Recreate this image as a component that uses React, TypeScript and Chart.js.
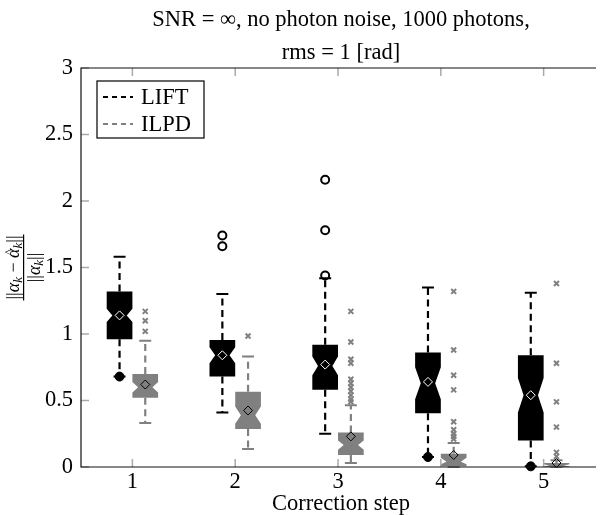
import React, { useEffect, useRef } from "react";
import { Chart, registerables } from "chart.js";

Chart.register(...registerables);

// ---------- data ----------
const categories = [1, 2, 3, 4, 5];
const xTickValues = [1, 2, 3, 4, 5];
const yTickValues = [0, 0.5, 1, 1.5, 2, 2.5, 3];

const titleLines = ["SNR = \u221E, no photon noise, 1000 photons,", "rms = 1 [rad]"];
const xAxisTitle = "Correction step";
const seriesNames = ["LIFT", "ILPD"];

// LIFT
const liftWhiskerHi = [1.58, 1.3, 1.42, 1.35, 1.31];
const liftQ3 = [1.32, 0.955, 0.92, 0.86, 0.84];
const liftNotchHi = [1.19, 0.9, 0.83, 0.75, 0.67];
const liftMedian = [1.14, 0.84, 0.76, 0.63, 0.54];
const liftNotchLo = [1.09, 0.78, 0.69, 0.51, 0.41];
const liftQ1 = [0.96, 0.68, 0.58, 0.405, 0.2];
const liftWhiskerLo = [0.68, 0.41, 0.25, 0.075, 0.005];
const liftMean = [1.14, 0.84, 0.77, 0.64, 0.54];
const liftOutliers = [[], [1.74, 1.66], [2.16, 1.78, 1.44], [], []];
const liftLowMarks = [0.68, null, null, 0.075, 0.005];

// ILPD
const ilpdWhiskerHi = [0.95, 0.83, 0.465, 0.18, 0.05];
const ilpdQ3 = [0.7, 0.565, 0.26, 0.1, 0.03];
const ilpdNotchHi = [0.64, 0.455, 0.2, 0.07, 0.02];
const ilpdMedian = [0.6, 0.39, 0.165, 0.04, 0.01];
const ilpdNotchLo = [0.56, 0.325, 0.13, 0.02, 0.005];
const ilpdQ1 = [0.52, 0.285, 0.09, 0.005, 0.0];
const ilpdWhiskerLo = [0.33, 0.135, 0.03, 0.0, 0.0];
const ilpdMean = [0.62, 0.425, 0.23, 0.09, 0.03];
const ilpdOutliers = [
  [1.17, 1.1, 1.02],
  [0.985],
  [1.17, 0.94, 0.81, 0.78, 0.66, 0.63, 0.6, 0.57, 0.54, 0.51, 0.49],
  [1.32, 0.88, 0.69, 0.58, 0.34, 0.28, 0.25, 0.23, 0.21],
  [1.38, 0.78, 0.49, 0.3, 0.11, 0.08],
];

// ---------- style ----------
const FONT = "'Liberation Serif', 'DejaVu Serif', serif";
const BLACK = "#000000";
const GRAY = "#808080";
const OFFSET = 0.125; // half group offset in category units
const HALF = 0.125; // half box width in category units

type BoxSeries = {
  color: string;
  off: number;
  whiskerHi: number[];
  q3: number[];
  notchHi: number[];
  median: number[];
  notchLo: number[];
  q1: number[];
  whiskerLo: number[];
};

const boxSeries: BoxSeries[] = [
  { color: BLACK, off: -OFFSET, whiskerHi: liftWhiskerHi, q3: liftQ3, notchHi: liftNotchHi, median: liftMedian, notchLo: liftNotchLo, q1: liftQ1, whiskerLo: liftWhiskerLo },
  { color: GRAY, off: OFFSET, whiskerHi: ilpdWhiskerHi, q3: ilpdQ3, notchHi: ilpdNotchHi, median: ilpdMedian, notchLo: ilpdNotchLo, q1: ilpdQ1, whiskerLo: ilpdWhiskerLo },
];

const boxPlugin = {
  id: "boxes",
  beforeDatasetsDraw(chart: any) {
    const { ctx } = chart;
    const xs = chart.scales.x;
    const ys = chart.scales.y;
    ctx.save();
    boxSeries.forEach((s) => {
      categories.forEach((c, i) => {
        const xc = xs.getPixelForValue(c + s.off);
        const xl = xs.getPixelForValue(c + s.off - HALF);
        const xr = xs.getPixelForValue(c + s.off + HALF);
        const yq3 = ys.getPixelForValue(s.q3[i]);
        const yq1 = ys.getPixelForValue(s.q1[i]);
        const ywh = ys.getPixelForValue(s.whiskerHi[i]);
        const ywl = ys.getPixelForValue(s.whiskerLo[i]);
        const ynh = ys.getPixelForValue(s.notchHi[i]);
        const ynl = ys.getPixelForValue(s.notchLo[i]);
        const ym = ys.getPixelForValue(s.median[i]);
        // whiskers
        ctx.strokeStyle = s.color;
        ctx.lineWidth = 2.2;
        ctx.setLineDash([7, 4.5]);
        ctx.beginPath();
        ctx.moveTo(xc, yq3);
        ctx.lineTo(xc, ywh);
        ctx.moveTo(xc, yq1);
        ctx.lineTo(xc, ywl);
        ctx.stroke();
        ctx.setLineDash([]);
        ctx.lineWidth = 2;
        ctx.beginPath();
        ctx.moveTo(xc - 6, ywh);
        ctx.lineTo(xc + 6, ywh);
        ctx.moveTo(xc - 6, ywl);
        ctx.lineTo(xc + 6, ywl);
        ctx.stroke();
        // notched box
        const d = (xr - xl) * 0.22;
        ctx.fillStyle = s.color;
        ctx.beginPath();
        ctx.moveTo(xl, yq3);
        ctx.lineTo(xr, yq3);
        ctx.lineTo(xr, ynh);
        ctx.lineTo(xr - d, ym);
        ctx.lineTo(xr, ynl);
        ctx.lineTo(xr, yq1);
        ctx.lineTo(xl, yq1);
        ctx.lineTo(xl, ynl);
        ctx.lineTo(xl + d, ym);
        ctx.lineTo(xl, ynh);
        ctx.closePath();
        ctx.fill();
      });
    });
    ctx.restore();
  },
  afterDraw(chart: any) {
    const { ctx, chartArea } = chart;
    const xs = chart.scales.x;
    const ys = chart.scales.y;
    const { left, right, top, bottom } = chartArea;
    ctx.save();
    // tick marks (inward)
    ctx.strokeStyle = "#aaaaaa";
    ctx.lineWidth = 1.5;
    ctx.beginPath();
    xTickValues.forEach((v) => {
      const x = xs.getPixelForValue(v);
      ctx.moveTo(x, bottom);
      ctx.lineTo(x, bottom - 8);
      ctx.moveTo(x, top);
      ctx.lineTo(x, top + 8);
    });
    yTickValues.forEach((v) => {
      const y = ys.getPixelForValue(v);
      ctx.moveTo(left, y);
      ctx.lineTo(left + 8, y);
    });
    ctx.stroke();
    // frame
    ctx.strokeStyle = "#111111";
    ctx.lineWidth = 1.2;
    ctx.beginPath();
    ctx.moveTo(right + 2, top);
    ctx.lineTo(left, top);
    ctx.lineTo(left, bottom);
    ctx.lineTo(right + 2, bottom);
    ctx.stroke();

    // title
    const cx = (left + 601) / 2;
    ctx.fillStyle = "#000";
    ctx.textAlign = "center";
    ctx.textBaseline = "alphabetic";
    ctx.font = `22.5px ${FONT}`;
    ctx.fillText(titleLines[0], cx, 26);
    ctx.fillText(titleLines[1], cx, 59);
    // x title
    ctx.fillText(xAxisTitle, cx, 510);

    // legend
    const lx = 97, ly = 81, lw = 107, lh = 57;
    ctx.fillStyle = "#fff";
    ctx.fillRect(lx, ly, lw, lh);
    ctx.strokeStyle = "#000";
    ctx.lineWidth = 1.2;
    ctx.strokeRect(lx, ly, lw, lh);
    const legendColors = [BLACK, GRAY];
    seriesNames.forEach((n, k) => {
      const yy = ly + 16 + k * 27;
      ctx.strokeStyle = legendColors[k];
      ctx.lineWidth = 2.2;
      ctx.setLineDash([5, 4]);
      ctx.beginPath();
      ctx.moveTo(lx + 6, yy);
      ctx.lineTo(lx + 36, yy);
      ctx.stroke();
      ctx.setLineDash([]);
      ctx.fillStyle = "#000";
      ctx.textAlign = "left";
      ctx.textBaseline = "middle";
      ctx.font = `22.5px ${FONT}`;
      ctx.fillText(n, lx + 44, yy + 1);
    });

    // y label: ||a_k - â_k|| / ||a_k|| rotated
    ctx.save();
    ctx.translate(24, (top + bottom) / 2);
    ctx.rotate(-Math.PI / 2);
    ctx.fillStyle = "#000";
    ctx.textBaseline = "alphabetic";
    const main = `18px ${FONT}`;
    const ital = `italic 18px ${FONT}`;
    const sub = `italic 13px ${FONT}`;
    type Seg = { t: string; f: string; dy?: number; hat?: boolean };
    const drawSegs = (segs: Seg[], yBase: number) => {
      let w = 0;
      segs.forEach((s) => { ctx.font = s.f; w += ctx.measureText(s.t).width; });
      let x = -w / 2;
      segs.forEach((s) => {
        ctx.font = s.f;
        ctx.textAlign = "left";
        ctx.fillText(s.t, x, yBase + (s.dy || 0));
        const sw = ctx.measureText(s.t).width;
        if (s.hat) {
          ctx.font = `13px ${FONT}`;
          ctx.textAlign = "center";
          ctx.fillText("^", x + sw / 2 + 1, yBase - 6);
        }
        x += sw;
      });
      return w;
    };
    const num: Seg[] = [
      { t: "||", f: main },
      { t: "\u03B1", f: ital },
      { t: "k", f: sub, dy: 3 },
      { t: " \u2212 ", f: main },
      { t: "\u03B1", f: ital, hat: true },
      { t: "k", f: sub, dy: 3 },
      { t: "||", f: main },
    ];
    const den: Seg[] = [
      { t: "||", f: main },
      { t: "\u03B1", f: ital },
      { t: "k", f: sub, dy: 3 },
      { t: "||", f: main },
    ];
    const wn = drawSegs(num, -5);
    drawSegs(den, 16);
    ctx.fillRect(-wn / 2 - 1, -1, wn + 2, 1.2);
    ctx.restore();

    ctx.restore();
  },
};

function pointsFrom(lists: number[][], off: number) {
  const pts: { x: number; y: number }[] = [];
  lists.forEach((l, i) => l.forEach((v) => pts.push({ x: categories[i] + off, y: v })));
  return pts;
}

export default function App() {
  const ref = useRef<HTMLCanvasElement | null>(null);
  useEffect(() => {
    if (!ref.current) return;
    const chart = new Chart(ref.current, {
      type: "scatter",
      data: {
        datasets: [
          {
            label: "LIFT outliers",
            data: pointsFrom(liftOutliers, -OFFSET),
            pointStyle: "circle",
            pointRadius: 4,
            borderWidth: 2,
            borderColor: BLACK,
            backgroundColor: "rgba(0,0,0,0)",
            clip: false,
          } as any,
          {
            label: "LIFT low",
            data: liftLowMarks
              .map((v, i) => (v === null ? null : { x: categories[i] - OFFSET, y: v }))
              .filter((p) => p !== null) as any,
            pointStyle: "circle",
            pointRadius: 4.5,
            borderWidth: 1,
            borderColor: BLACK,
            backgroundColor: BLACK,
            clip: false,
          } as any,
          {
            label: "ILPD outliers",
            data: pointsFrom(ilpdOutliers, OFFSET),
            pointStyle: "crossRot",
            pointRadius: 3.5,
            borderWidth: 2,
            borderColor: GRAY,
            backgroundColor: GRAY,
            clip: false,
          } as any,
          {
            label: "LIFT mean",
            data: liftMean.map((v, i) => ({ x: categories[i] - OFFSET, y: v })),
            pointStyle: "rectRot",
            pointRadius: 4.5,
            borderWidth: 1,
            borderColor: "#ffffff",
            backgroundColor: "rgba(0,0,0,0)",
            clip: false,
          } as any,
          {
            label: "ILPD mean",
            data: ilpdMean.map((v, i) => ({ x: categories[i] + OFFSET, y: v })),
            pointStyle: "rectRot",
            pointRadius: 4.5,
            borderWidth: 1,
            borderColor: "#000000",
            backgroundColor: "rgba(0,0,0,0)",
            clip: false,
          } as any,
        ],
      },
      options: {
        animation: false,
        responsive: false,
        events: [],
        layout: { padding: { top: 68, left: 0, right: 0, bottom: 0 } },
        plugins: { legend: { display: false }, title: { display: false }, tooltip: { enabled: false } },
        scales: {
          x: {
            type: "linear",
            min: 0.5,
            max: 5.49,
            afterBuildTicks: (s: any) => { s.ticks = xTickValues.map((v) => ({ value: v })); },
            afterFit: (s: any) => { s.height = 48; },
            grid: { display: false, drawTicks: false },
            border: { display: false },
            ticks: {
              color: "#000",
              font: { family: FONT, size: 22.5 },
              padding: 2,
              maxRotation: 0,
              callback: (v: any) => String(v),
            },
          },
          y: {
            type: "linear",
            min: 0,
            max: 3,
            afterBuildTicks: (s: any) => { s.ticks = yTickValues.map((v) => ({ value: v })); },
            afterFit: (s: any) => { s.width = 81; },
            grid: { display: false, drawTicks: false },
            border: { display: false },
            ticks: {
              color: "#000",
              font: { family: FONT, size: 22.5 },
              padding: 8,
              callback: (v: any) => String(v),
            },
          },
        },
      },
      plugins: [boxPlugin],
    });
    return () => chart.destroy();
  }, []);
  return (
    <div style={{ position: "absolute", left: 0, top: 0, width: 600, height: 515 }}>
      <canvas ref={ref} width={600} height={515} style={{ display: "block" }} />
    </div>
  );
}
